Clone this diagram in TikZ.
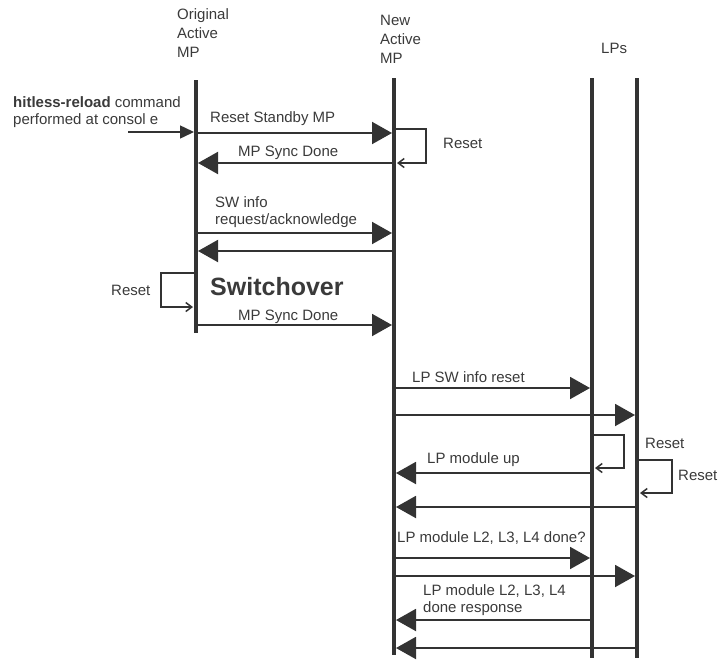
\documentclass[tikz,border=0pt]{standalone}
\usepackage{fontspec}
\setmainfont{Liberation Sans}
\usepackage{xcolor}
\usetikzlibrary{arrows.meta,positioning}
\definecolor{ink}{HTML}{333333}
\definecolor{txt}{HTML}{3A3A3A}

\begin{document}
\begin{tikzpicture}[
  x=1pt, y=-1pt,
  life/.style={line width=4pt, draw=ink},
  msg/.style={-{Triangle[length=20pt,width=22pt]}, line width=2pt, draw=ink, shorten >=2pt, shorten <=2pt},
  cmdarr/.style={-{Triangle[length=14pt,width=13pt]}, line width=1.5pt, draw=ink, shorten >=2pt},
  selfloop/.style={-{Straight Barb[length=6pt,width=9pt,line width=1.5pt]}, line width=2pt, draw=ink, shorten >=3pt, shorten <=2pt},
  head/.style={anchor=north west, inner sep=0pt, align=left, text=txt, font=\fontsize{15}{19}\selectfont},
  lbl/.style={anchor=base west, inner sep=0pt, align=left, text=txt, font=\fontsize{15}{17}\selectfont}
]
  \useasboundingbox (0,0) rectangle (721,665);

  \node[head] (orighd) at (177,8) {Original\\Active\\MP};
  \node[head] (newhd) at (380,15) {New\\Active\\MP};
  \node[head] (lphd) at (601,43) {LPs};

  \coordinate (o) at (196,80);   \coordinate (oend) at (196,333);
  \coordinate (n) at (394,78);   \coordinate (nend) at (394,655);
  \coordinate (la) at (592,78);  \coordinate (laend) at (592,658);
  \coordinate (lb) at (637,78);  \coordinate (lbend) at (637,658);
  \draw[life] (o) -- (oend);
  \draw[life] (n) -- (nend);
  \draw[life] (la) -- (laend);
  \draw[life] (lb) -- (lbend);

  \node[lbl] (cmdlbl) at (13,124) {\textbf{hitless-reload} command\\performed at consol e};
  \coordinate (cmd) at (128,132);
  \draw[cmdarr] (cmd) -- (o |- cmd);

  \node[lbl] (rstsb) at (210,122) {Reset Standby MP};
  \draw[msg] (o |- 0,133) -- (n |- 0,133);
  \draw[selfloop] (n |- 0,129) -| (426,163) -- (n |- 0,163);
  \node[lbl] (nreset) at (443,148) {Reset};
  \node[lbl] (sync1) at (238,156) {MP Sync Done};
  \draw[msg] (n |- 0,163) -- (o |- 0,163);

  \node[lbl] (swinfo) at (215,224) {SW info\\request/acknowledge};
  \draw[msg] (o |- 0,233) -- (n |- 0,233);
  \draw[msg] (n |- 0,251) -- (o |- 0,251);

  \draw[selfloop] (o |- 0,273) -| (161,307) -- (o |- 0,307);
  \node[lbl] (oreset) at (111,295) {Reset};
  \node[lbl, font=\bfseries\fontsize{25}{30}\selectfont] (swover) at (210,295) {Switchover};
  \node[lbl] (sync2) at (238,320) {MP Sync Done};
  \draw[msg] (o |- 0,325) -- (n |- 0,325);

  \node[lbl] (lpsw) at (412,382) {LP SW info reset};
  \draw[msg] (n |- 0,388) -- (la |- 0,388);
  \draw[msg] (n |- 0,415) -- (lb |- 0,415);

  \draw[selfloop] (la |- 0,435) -| (624,468) -- (la |- 0,468);
  \node[lbl] (lareset) at (645,448) {Reset};
  \node[lbl] (lpup) at (427,463) {LP module up};
  \draw[msg] (la |- 0,473) -- (n |- 0,473);

  \draw[selfloop] (lb |- 0,460) -| (672,493) -- (lb |- 0,493);
  \node[lbl] (lbreset) at (678,480) {Reset};
  \draw[msg] (lb |- 0,507) -- (n |- 0,507);

  \node[lbl] (lpdone) at (397,542) {LP module L2, L3, L4 done?};
  \draw[msg] (n |- 0,558) -- (la |- 0,558);
  \draw[msg] (n |- 0,576) -- (lb |- 0,576);

  \node[lbl] (lpresp) at (423,612) {LP module L2, L3, L4\\done response};
  \draw[msg] (la |- 0,620) -- (n |- 0,620);
  \draw[msg] (lb |- 0,648) -- (n |- 0,648);
\end{tikzpicture}
\end{document}
